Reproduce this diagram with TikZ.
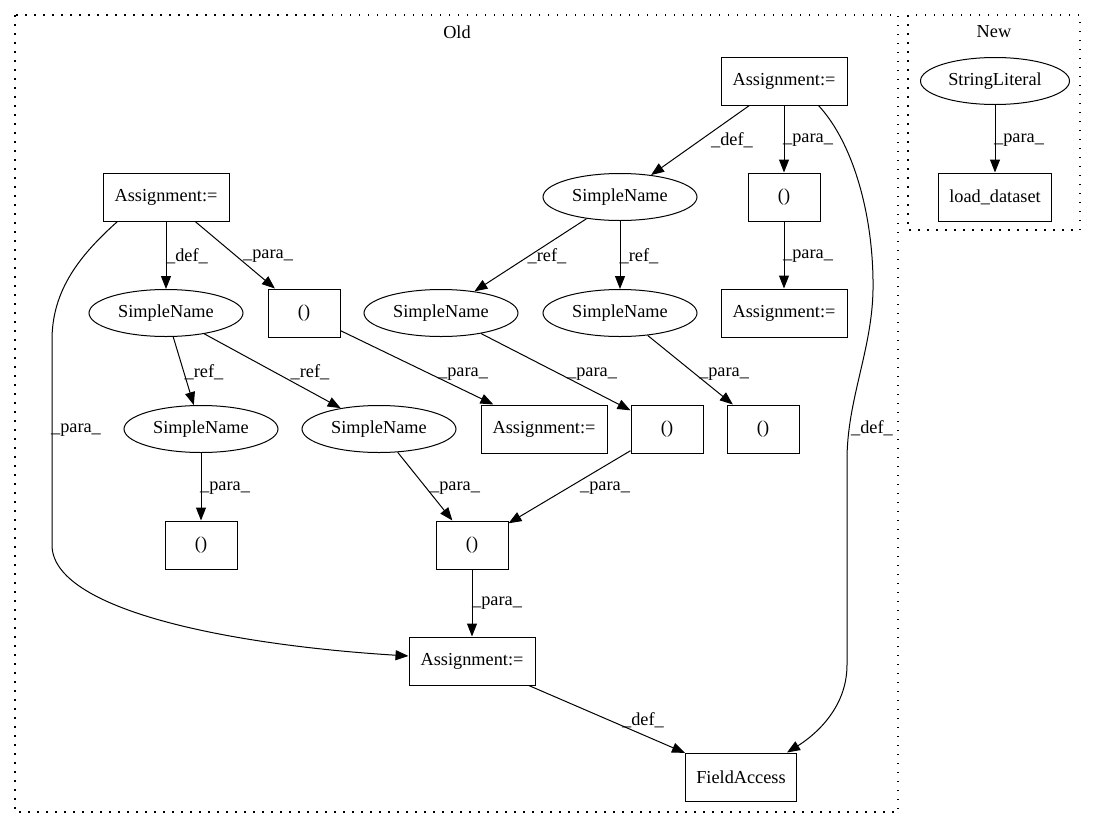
\documentclass[tikz,border=0pt]{standalone}
\usepackage{fontspec}
\setmainfont{Liberation Serif}
\usetikzlibrary{arrows.meta,shapes.geometric}
\begin{document}
\begin{tikzpicture}[x=1pt,y=-1pt,
  every node/.style={font=\fontsize{18.3}{22}\selectfont},
  box/.style={draw, line width=1pt, rectangle, inner sep=0pt, minimum width=126pt, minimum height=48pt},
  pbox/.style={box, minimum width=72pt},
  ell/.style={draw, line width=1pt, ellipse, inner sep=0pt, minimum width=154pt, minimum height=47pt},
  e/.style={line width=1pt, -{Triangle[length=13pt,width=10pt]}},
  lbl/.style={inner sep=0pt},
  cluster/.style={line width=1.3pt, dash pattern=on 1.5pt off 7.5pt}
]
\useasboundingbox (0,0) rectangle (1096,828);
% clusters
\draw[cluster] (15,15) rectangle (898,812);
\draw[cluster] (908,15) rectangle (1080,230);
\node (oldlbl) at (457,32) {Old};
\node (newlbl) at (994,32) {New};
% nodes
\node[box] (A1) at (784,81) {Assignment:=};
\node[ell] (SN1) at (620,197) {SimpleName};
\node[pbox] (P1) at (784,197) {()};
\node[box] (A2) at (784,313) {Assignment:=};
\node[box] (A3) at (166,197) {Assignment:=};
\node[ell] (SN2) at (166,313) {SimpleName};
\node[pbox] (P2) at (304,313) {()};
\node[ell] (SN3) at (441,313) {SimpleName};
\node[ell] (SN4) at (620,313) {SimpleName};
\node[ell] (SN5) at (201,429) {SimpleName};
\node[ell] (SN6) at (379,429) {SimpleName};
\node[box] (A4) at (544,429) {Assignment:=};
\node[pbox] (P3) at (667,429) {()};
\node[pbox] (P4) at (763,429) {()};
\node[pbox] (P5) at (201,545) {()};
\node[pbox] (P6) at (472,545) {()};
\node[box] (A5) at (472,661) {Assignment:=};
\node[box, minimum width=111pt] (FA) at (741,777) {FieldAccess};
\node[ell, minimum width=149pt] (SL) at (995,81) {StringLiteral};
\node[box, minimum width=113pt] (LD) at (995,197) {load\_dataset};
% edges
\draw[e] (A1) -- (SN1) node[lbl] at (732,140) {\_def\_};
\draw[e] (A1) -- (P1) node[lbl] at (808,140) {\_para\_};
\draw[e] (P1) -- (A2) node[lbl] at (808,256) {\_para\_};
\draw[e] ([xshift=-29pt]A1.south east) .. controls (855,145) and (874,220) .. (873,290)
  .. controls (872,350) and (847,400) .. (847,460) -- (847,665)
  .. controls (847,710) and (812,737) .. ([xshift=-10pt]FA.north east);
\node[lbl] (l4) at (872,428) {\_def\_};
\draw[e] (SN1) -- (SN3) node[lbl] at (547,256) {\_ref\_};
\draw[e] (SN1) -- (SN4) node[lbl] at (639,256) {\_ref\_};
\draw[e] (A3) -- (SN2) node[lbl] at (187,256) {\_def\_};
\draw[e] (A3) -- (P2) node[lbl] at (268,256) {\_para\_};
\draw[e] ([xshift=15pt]A3.south west) .. controls (80,255) and (52,290) .. (52,340) -- (52,545)
  .. controls (52,610) and (230,645) .. ([yshift=5pt]A5.west);
\node[lbl] (l9) at (76,430) {\_para\_};
\draw[e] (P2) -- (A4) node[lbl] at (463,374) {\_para\_};
\draw[e] (SN2) -- (SN5) node[lbl] at (204,372) {\_ref\_};
\draw[e] (SN2) -- (SN6) node[lbl] at (310,372) {\_ref\_};
\draw[e] (SN3) -- (P3) node[lbl] at (592,374) {\_para\_};
\draw[e] (SN4) -- (P4) node[lbl] at (724,374) {\_para\_};
\draw[e] (SN5) -- (P5) node[lbl] at (225,488) {\_para\_};
\draw[e] (SN6) -- (P6) node[lbl] at (455,488) {\_para\_};
\draw[e] (P3) -- (P6) node[lbl] at (605,488) {\_para\_};
\draw[e] (P6) -- (A5) node[lbl] at (497,603) {\_para\_};
\draw[e] (A5) -- (FA) node[lbl] at (643,720) {\_def\_};
\draw[e] (SL) -- (LD) node[lbl] at (1019,140) {\_para\_};
\end{tikzpicture}
\end{document}
